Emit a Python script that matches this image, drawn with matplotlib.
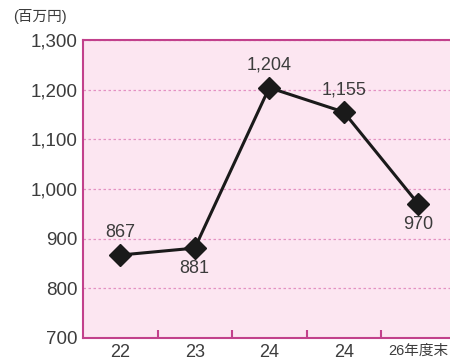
import matplotlib
matplotlib.use("Agg")
import matplotlib.pyplot as plt
from matplotlib.ticker import FixedLocator, NullFormatter

plt.rcParams["font.family"] = ["Liberation Sans", "Noto Sans CJK JP"]

categories = ["22", "23", "24", "24", "26年度末"]
values = [867, 881, 1204, 1155, 970]
label_pos = ["above", "below", "above", "above", "below"]
yticks = [700, 800, 900, 1000, 1100, 1200, 1300]

PINK = "#c2418c"
BG = "#fce6f1"
GRID = "#e391c2"
TXT = "#3c3c3c"

fig = plt.figure(figsize=(4.5, 3.63), dpi=100)
ax = fig.add_axes([83 / 450, 25 / 363, 1 - 83 / 450, 298 / 363])
ax.set_facecolor(BG)

x = list(range(len(categories)))
ax.plot(x, values, color="#1a1a1a", lw=2.2, marker="D", ms=11, zorder=3)

for xi, v, pos in zip(x, values, label_pos):
    off = 16 if pos == "above" else -15
    ax.annotate(f"{v:,}", (xi, v), xytext=(0, off), textcoords="offset points",
                ha="center", va="center", fontsize=13, color=TXT)

ax.set_ylim(700, 1300)
ax.set_yticks(yticks)
ax.set_yticklabels([f"{t:,}" for t in yticks], fontsize=13.5, color=TXT)
ax.tick_params(axis="y", length=0, pad=4)
ax.grid(axis="y", color=GRID, ls=(0, (2, 2)), lw=0.9)

span = (450 - 83) / 74.5
ax.set_xlim(-0.5, -0.5 + span)
ax.xaxis.set_major_locator(FixedLocator([i + 0.5 for i in range(4)]))
ax.xaxis.set_major_formatter(NullFormatter())
ax.xaxis.set_minor_locator(FixedLocator(x))
xlabels = ax.set_xticklabels(categories, minor=True, fontsize=13, color=TXT)
xlabels[-1].set_fontsize(10.5)
ax.tick_params(axis="x", which="minor", length=0, pad=4)
ax.tick_params(axis="x", which="major", direction="in", length=6, width=1.5, color=PINK)

for side in ["left", "bottom", "top"]:
    ax.spines[side].set_color(PINK)
    ax.spines[side].set_linewidth(1.5)
ax.spines["right"].set_visible(False)

fig.text(13 / 450, 1 - 16 / 363, "(百万円)", fontsize=10.5, color=TXT, va="center")

fig.savefig("out.png", dpi=100)
